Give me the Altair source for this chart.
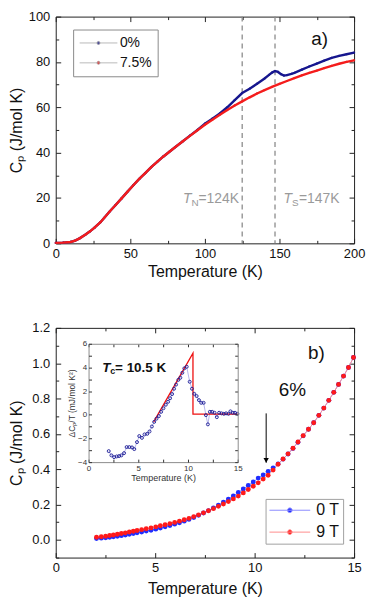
import altair as alt
import pandas as pd

FONT = "Liberation Sans"
INK = "#111111"

# ---------------- panel a: Cp(T) up to 200 K ----------------
a_T_0 = [0, 5, 10, 13, 16, 20, 23, 26, 30, 33, 36, 40, 44, 48, 52, 56, 60, 64, 68, 72,
         76, 80, 85, 90, 95, 100, 105, 110, 115, 120, 125, 130, 135, 140, 143, 145, 147,
         149, 151, 153, 155, 158, 160, 165, 170, 175, 180, 185, 190, 195, 200]
a_Cp_0 = [0.2, 0.3, 0.6, 1.2, 2.2, 3.9, 5.3, 6.9, 9.3, 11.6, 13.9, 16.8, 19.7, 22.7, 25.6,
          28.4, 31.0, 33.6, 35.9, 38.2, 40.3, 42.4, 44.9, 47.5, 50.0, 52.8, 55.0, 57.3,
          60.0, 63.2, 66.3, 68.2, 70.4, 72.7, 74.3, 75.3, 76.0, 75.6, 74.6, 74.0, 74.2,
          74.7, 75.2, 76.6, 78.0, 79.3, 80.6, 81.8, 82.7, 83.4, 84.1]
a_T_75 = [0, 5, 10, 13, 16, 20, 23, 26, 30, 33, 36, 40, 44, 48, 52, 56, 60, 64, 68, 72,
          76, 80, 85, 90, 95, 100, 105, 110, 115, 120, 125, 130, 135, 140, 145, 150, 155,
          160, 165, 170, 175, 180, 185, 190, 195, 200]
a_Cp_75 = [0.2, 0.3, 0.6, 1.2, 2.2, 3.9, 5.3, 6.9, 9.3, 11.6, 13.9, 16.8, 19.7, 22.7, 25.6,
           28.4, 31.0, 33.6, 35.9, 38.2, 40.3, 42.4, 44.9, 47.4, 49.9, 52.3, 54.5, 56.7,
           58.8, 60.8, 62.6, 64.4, 66.1, 67.6, 69.0, 70.3, 71.6, 72.9, 74.1, 75.2, 76.2,
           77.3, 78.3, 79.2, 80.0, 80.7]
a_samples = ["0%", "7.5%"]
a_trans_T = [125, 147]
a_trans_sym = ["T", "T"]
a_trans_sub = ["N", "S"]
a_trans_val = ["=124K", "=147K"]
a_trans_label_T = [85.3, 152.7]
a_trans_label_Cp = [17.8, 17.8]
a_tag = ["a)"]
a_tag_T = [177]
a_tag_Cp = [90]
a_xticks = [0, 50, 100, 150, 200]
a_xminor = [25, 75, 125, 175]
a_yticks = [0, 20, 40, 60, 80, 100]
a_yminor = [10, 30, 50, 70, 90]

# ---------------- panel b: low-T Cp in 0 T and 9 T ----------------
b_T = [2.05, 2.29, 2.51, 2.71, 2.90, 3.10, 3.30, 3.50, 3.70, 3.90, 4.09, 4.32, 4.55, 4.79,
       5.03, 5.26, 5.50, 5.74, 5.98, 6.22, 6.46, 6.70, 6.94, 7.18, 7.43, 7.68, 7.93, 8.18,
       8.43, 8.68, 8.93, 9.18, 9.43, 9.68, 9.93, 10.18, 10.43, 10.68, 10.93, 11.18, 11.43,
       11.68, 11.93, 12.18, 12.44, 12.71, 12.97, 13.23, 13.48, 13.73, 13.98, 14.22, 14.47,
       14.72, 14.97]
b_Cp_0T = [0.008, 0.010, 0.012, 0.015, 0.018, 0.021, 0.024, 0.028, 0.032, 0.036,
           0.040, 0.045, 0.050, 0.055, 0.061, 0.067, 0.074, 0.081, 0.089, 0.097,
           0.106, 0.116, 0.127, 0.139, 0.152, 0.166, 0.181, 0.197, 0.214, 0.231,
           0.249, 0.268, 0.288, 0.308, 0.328, 0.350, 0.368, 0.388, 0.408, 0.430,
           0.457, 0.486, 0.518, 0.553, 0.589, 0.626, 0.663, 0.705, 0.746, 0.790,
           0.835, 0.880, 0.927, 0.976, 1.032]
b_Cp_9T = [0.015, 0.018, 0.021, 0.025, 0.028, 0.032, 0.036, 0.040, 0.045, 0.049,
           0.053, 0.058, 0.063, 0.068, 0.074, 0.080, 0.086, 0.092, 0.099, 0.106,
           0.114, 0.122, 0.132, 0.142, 0.153, 0.165, 0.177, 0.190, 0.203, 0.217,
           0.232, 0.248, 0.266, 0.285, 0.304, 0.323, 0.344, 0.366, 0.395, 0.428,
           0.458, 0.487, 0.519, 0.554, 0.590, 0.626, 0.663, 0.705, 0.746, 0.790,
           0.835, 0.880, 0.927, 0.976, 1.032]
b_fields = ["0 T", "9 T"]
b_arrow_T = [10.58]
b_arrow_top = [0.716]
b_arrow_tip = [0.437]
b_tags = ["6%", "b)"]
b_tags_T = [11.9, 13.1]
b_tags_Cp = [0.848, 1.055]
b_xticks = [0, 5, 10, 15]
b_xminor = [2.5, 7.5, 12.5]
b_yticks = [0.0, 0.2, 0.4, 0.6, 0.8, 1.0, 1.2]
b_yminor = [-0.1, 0.1, 0.3, 0.5, 0.7, 0.9, 1.1]

# ---------------- inset: dCp/T ----------------
i_T = [2.03, 2.30, 2.57, 2.83, 3.07, 3.30, 3.57, 3.83, 4.10, 4.37, 4.60, 4.87, 5.10, 5.37,
       5.63, 5.90, 6.13, 6.37, 6.60, 6.83, 7.07, 7.30, 7.53, 7.77, 8.00, 8.20, 8.40, 8.60,
       8.80, 9.03, 9.23, 9.43, 9.63, 9.87, 10.17, 10.40, 10.63, 10.87, 11.10, 11.33, 11.57,
       11.80, 12.00, 12.20, 12.43, 12.67, 12.90, 13.13, 13.37, 13.60, 13.83, 14.07, 14.27,
       14.50, 14.73, 14.97]
i_dC = [-3.07, -3.43, -3.58, -3.52, -3.49, -3.43, -3.24, -2.73, -2.73, -2.76, -2.90, -2.31,
        -1.80, -1.95, -1.66, -1.61, -1.41, -0.99, -0.60, -0.33, -0.11, 0.25, 0.55, 0.85,
        1.10, 1.40, 1.75, 2.20, 2.55, 2.95, 3.13, 3.55, 3.92, 4.06, 2.79, 2.20, 1.77, 1.58,
        1.24, 1.01, 1.01, -0.03, -0.81, 0.25, 0.25, 0.17, -0.20, 0.17, 0.12, 0.08, 0.12,
        0.08, 0.29, 0.17, 0.17, 0.08]
i_fit_T = [6.55, 10.5, 10.5, 15.0]
i_fit_dC = [-0.6, 5.2, 0.05, 0.05]
i_tc_T = [1.37]
i_tc_dC = [3.97]
i_xticks = [0, 5, 10, 15]
i_xminor = [0, 2.5, 5, 7.5, 10, 12.5, 15]
i_yticks = [-4, -2, 0, 2, 4, 6]
i_yminor = [-4, -3, -2, -1, 0, 1, 2, 3, 4, 5, 6]

# ---------------- layout constants ----------------
W = 300
HA = 228
HB = 231
INSET_X = [33, 183]
INSET_Y = [135, 16]

NAVY = "#16168e"
RED_A = "#f41c1c"
BLUE_B = "#1f2dff"
RED_B = "#ff1a1a"


def A(values, orient, offset=0, size=0, labels=False, domain=False, **kw):
    d = dict(values=values, orient=orient, offset=offset, grid=False, labels=labels,
             domain=domain, labelFlush=False, labelOverlap=False, tickColor="#222",
             tickWidth=1, domainColor="#222", labelColor=INK, titleColor=INK,
             titleFontWeight="normal")
    if size > 0:
        d.update(ticks=True, tickSize=size)
    else:
        d.update(ticks=False)
    if "title" not in kw:
        d["title"] = None
    d.update(kw)
    return alt.Axis(**d)


def axis_layer(data, xf, yf, xs, ys, xax, yax):
    return alt.Chart(data).mark_point(opacity=0).encode(
        x=alt.X(xf, type="quantitative", scale=xs, axis=xax),
        y=alt.Y(yf, type="quantitative", scale=ys, axis=yax))


# ================= panel a =================
dfa = pd.concat([pd.DataFrame({"T": a_T_0, "Cp": a_Cp_0, "sample": a_samples[0]}),
                 pd.DataFrame({"T": a_T_75, "Cp": a_Cp_75, "sample": a_samples[1]})],
                ignore_index=True)
xa = alt.Scale(domain=[0, 200], nice=False, zero=False)
ya = alt.Scale(domain=[0, 100], nice=False, zero=False)
Xa = alt.X("T:Q", scale=xa, axis=None)
Ya = alt.Y("Cp:Q", scale=ya, axis=None)

PATH_A = "M-1,0L1,0M-0.08,0A0.08,0.08,0,1,1,0.08,0A0.08,0.08,0,1,1,-0.08,0Z"
legend_a = alt.Legend(orient="none", legendX=17.5, legendY=13, title=None,
                      symbolType=PATH_A, symbolSize=1444, symbolStrokeColor="#a8a8a8",
                      symbolStrokeWidth=0.8, symbolOpacity=1, labelFont=FONT,
                      labelFontSize=14, labelColor=INK, labelOffset=2, padding=6,
                      rowPadding=5, clipHeight=15, fillColor="white", strokeColor="#8a8a8a")

pts_a = alt.Chart(dfa).mark_point(filled=True, size=5, opacity=1).encode(
    x=Xa, y=Ya,
    fill=alt.Fill("sample:N", scale=alt.Scale(domain=a_samples, range=[NAVY, RED_A]),
                  legend=legend_a))
line_a0 = alt.Chart(dfa).transform_filter(alt.datum.sample == a_samples[0]).mark_line(
    strokeWidth=2.4, color=NAVY).encode(x=Xa, y=Ya)
line_a1 = alt.Chart(dfa).transform_filter(alt.datum.sample == a_samples[1]).mark_line(
    strokeWidth=2.4, color=RED_A).encode(x=Xa, y=Ya)

rules_a = alt.Chart(pd.DataFrame({"T": a_trans_T})).mark_rule(
    strokeDash=[5, 4], color="#8c8c8c", strokeWidth=1.3).encode(x=Xa)

df_tl = pd.DataFrame({"T": a_trans_label_T, "Cp": a_trans_label_Cp, "sym": a_trans_sym,
                      "sub": a_trans_sub, "val": a_trans_val})
GRAY_T = "#9a9a9a"
tl_sym = alt.Chart(df_tl).mark_text(align="left", baseline="alphabetic", fontSize=14,
                                    fontStyle="italic", color=GRAY_T, font=FONT).encode(
    x=Xa, y=Ya, text="sym:N")
tl_sub = alt.Chart(df_tl).mark_text(align="left", baseline="alphabetic", fontSize=10,
                                    dx=8.5, dy=3, color=GRAY_T, font=FONT).encode(
    x=Xa, y=Ya, text="sub:N")
tl_val = alt.Chart(df_tl).mark_text(align="left", baseline="alphabetic", fontSize=14,
                                    dx=15.5, color=GRAY_T, font=FONT).encode(
    x=Xa, y=Ya, text="val:N")
tag_a = alt.Chart(pd.DataFrame({"T": a_tag_T, "Cp": a_tag_Cp, "t": a_tag})).mark_text(
    fontSize=19, color=INK, font=FONT).encode(x=Xa, y=Ya, text="t:N")

axes_a = [
    axis_layer(dfa, "T", "Cp", xa, ya,
               A(a_xticks, "bottom", labels=True, title="Temperature (K)", labelFont=FONT,
                 labelFontSize=13, labelPadding=4, titleFont=FONT, titleFontSize=16,
                 titlePadding=3),
               A(a_yticks, "left", labels=True, title="Cₚ (J/mol K)", labelFont=FONT,
                 labelFontSize=13, labelPadding=6, titleFont=FONT, titleFontSize=16,
                 titleX=-31)),
    axis_layer(dfa, "T", "Cp", xa, ya, A(a_xticks, "top", offset=-HA, size=5),
               A(a_yticks, "right", offset=-W, size=5)),
    axis_layer(dfa, "T", "Cp", xa, ya, A(a_xticks, "bottom", offset=-HA, size=5),
               A(a_yticks, "left", offset=-W, size=5)),
    axis_layer(dfa, "T", "Cp", xa, ya, A(a_xminor, "top", offset=-HA, size=3),
               A(a_yminor, "right", offset=-W, size=3)),
    axis_layer(dfa, "T", "Cp", xa, ya, A(a_xminor, "bottom", offset=-HA, size=3),
               A(a_yminor, "left", offset=-W, size=3)),
]

panel_a = alt.layer(*axes_a, pts_a, rules_a, line_a0, line_a1, tl_sym, tl_sub, tl_val,
                    tag_a).resolve_axis(x="independent", y="independent").properties(
    width=W, height=HA)

# ================= panel b =================
dfb = pd.concat([pd.DataFrame({"T": b_T, "Cp": b_Cp_0T, "field": b_fields[0]}),
                 pd.DataFrame({"T": b_T, "Cp": b_Cp_9T, "field": b_fields[1]})],
                ignore_index=True)
xb = alt.Scale(domain=[0, 15], nice=False, zero=False)
yb = alt.Scale(domain=[-0.1, 1.2], nice=False, zero=False)
Xb = alt.X("T:Q", scale=xb, axis=None)
Yb = alt.Y("Cp:Q", scale=yb, axis=None)

PATH_B = "M-1,0L1,0M-0.115,0A0.115,0.115,0,1,1,0.115,0A0.115,0.115,0,1,1,-0.115,0Z"
legend_b = alt.Legend(orient="none", legendX=211, legendY=172, title=None,
                      symbolType=PATH_B, symbolSize=1681, symbolStrokeWidth=1,
                      symbolOpacity=1, labelFont=FONT, labelFontSize=16, labelColor=INK,
                      labelOffset=5.5, padding=3.4, rowPadding=6, clipHeight=16,
                      fillColor="white", strokeColor="#a0a0a0")

lines_b = alt.Chart(dfb).mark_line(strokeWidth=0.9).encode(
    x=Xb, y=Yb,
    stroke=alt.Stroke("field:N", scale=alt.Scale(domain=b_fields,
                                                 range=["#8c8cff", "#ff8c8c"]),
                      legend=legend_b))
pts_b = alt.Chart(dfb).mark_point(filled=True, size=24, opacity=1).encode(
    x=Xb, y=Yb,
    fill=alt.Fill("field:N", scale=alt.Scale(domain=b_fields, range=[BLUE_B, RED_B]),
                  legend=legend_b))

df_arrow = pd.DataFrame({"T": b_arrow_T, "top": b_arrow_top, "tip": b_arrow_tip})
arrow_line = alt.Chart(df_arrow).mark_rule(color="black", strokeWidth=1).encode(
    x=Xb, y=alt.Y("top:Q", scale=yb, axis=None), y2="tip:Q")
arrow_head = alt.Chart(df_arrow).mark_point(shape="triangle-down", filled=True, size=28,
                                           color="black", opacity=1, yOffset=-2.3).encode(
    x=Xb, y=alt.Y("tip:Q", scale=yb, axis=None))
tags_b = alt.Chart(pd.DataFrame({"T": b_tags_T, "Cp": b_tags_Cp, "t": b_tags})).mark_text(
    fontSize=19, color=INK, font=FONT).encode(x=Xb, y=Yb, text="t:N")

axes_b = [
    axis_layer(dfb, "T", "Cp", xb, yb,
               A(b_xticks, "bottom", labels=True, title="Temperature (K)", labelFont=FONT,
                 labelFontSize=13, labelPadding=4, titleFont=FONT, titleFontSize=16,
                 titlePadding=6),
               A(b_yticks, "left", labels=True, title="Cₚ (J/mol K)", labelFont=FONT,
                 labelFontSize=13, labelPadding=6, titleFont=FONT, titleFontSize=16,
                 titleX=-31, format=".1f")),
    axis_layer(dfb, "T", "Cp", xb, yb, A(b_xticks, "top", offset=-HB, size=5),
               A(b_yticks, "right", offset=-W, size=5)),
    axis_layer(dfb, "T", "Cp", xb, yb, A(b_xticks, "bottom", offset=-HB, size=5),
               A(b_yticks, "left", offset=-W, size=5)),
    axis_layer(dfb, "T", "Cp", xb, yb, A(b_xminor, "top", offset=-HB, size=3),
               A(b_yminor, "right", offset=-W, size=3)),
    axis_layer(dfb, "T", "Cp", xb, yb, A(b_xminor, "bottom", offset=-HB, size=3),
               A(b_yminor, "left", offset=-W, size=3)),
]

# ---- inset ----
dfi = pd.DataFrame({"T": i_T, "dC": i_dC})
xi = alt.Scale(domain=[0, 15], range=INSET_X, nice=False, zero=False)
yi = alt.Scale(domain=[-4, 6], range=INSET_Y, nice=False, zero=False)
Xi = alt.X("T:Q", scale=xi, axis=None)
Yi = alt.Y("dC:Q", scale=yi, axis=None)
IGRAY = "#8c8c8c"


def IA(values, orient, offset, size=0, labels=False, domain=False, **kw):
    return A(values, orient, offset=offset, size=size, labels=labels, domain=domain,
             zindex=1, domainColor=IGRAY, tickColor="#333", labelFont=FONT,
             labelFontSize=8, labelColor="#333", titleColor="#333", titleFont=FONT, **kw)


axes_i = [
    axis_layer(dfi, "T", "dC", xi, yi,
               IA(i_xticks, "bottom", INSET_Y[0] - HB, labels=True, domain=True,
                  labelPadding=2, title="Temperature (K)", titleFontSize=9,
                  titlePadding=1),
               IA(i_yticks, "left", -INSET_X[0], labels=True, domain=True,
                  labelPadding=2, title="ΔCₚ/T (mJ/mol K²)", titleFontSize=8.5,
                  titlePadding=1)),
    axis_layer(dfi, "T", "dC", xi, yi, IA(i_xminor, "top", -INSET_Y[0], size=3),
               IA(i_yminor, "right", INSET_X[0] - W, size=3)),
    axis_layer(dfi, "T", "dC", xi, yi,
               IA(i_xminor, "bottom", INSET_Y[1] - HB, size=3, domain=True),
               IA(i_yminor, "left", -INSET_X[1], size=3, domain=True)),
]

line_i = alt.Chart(dfi).mark_line(color="#a4a4e4", strokeWidth=0.8).encode(x=Xi, y=Yi)
pts_i = alt.Chart(dfi).mark_point(shape="circle", filled=False, size=9, strokeWidth=0.9,
                                  color="#1c1c96", opacity=1).encode(x=Xi, y=Yi)
dff = pd.DataFrame({"T": i_fit_T, "dC": i_fit_dC, "k": list(range(len(i_fit_T)))})
fit_i = alt.Chart(dff).mark_line(color="#ee1111", strokeWidth=1.3).encode(
    x=Xi, y=Yi, order="k:Q")
df_tc = pd.DataFrame({"T": i_tc_T, "dC": i_tc_dC, "a": ["T"], "b": ["c"],
                      "c": ["= 10.5 K"]})
tc_a = alt.Chart(df_tc).mark_text(align="left", baseline="middle", fontSize=13.5,
                                  fontWeight="bold", fontStyle="italic", color=INK,
                                  font=FONT).encode(x=Xi, y=Yi, text="a:N")
tc_b = alt.Chart(df_tc).mark_text(align="left", baseline="middle", fontSize=9,
                                  fontWeight="bold", dx=8, dy=3, color=INK,
                                  font=FONT).encode(x=Xi, y=Yi, text="b:N")
tc_c = alt.Chart(df_tc).mark_text(align="left", baseline="middle", fontSize=13.5,
                                  fontWeight="bold", dx=13, color=INK,
                                  font=FONT).encode(x=Xi, y=Yi, text="c:N")

panel_b = alt.layer(*axes_b, lines_b, pts_b, arrow_line, arrow_head, tags_b,
                    *axes_i, line_i, fit_i, pts_i, tc_a, tc_b, tc_c).resolve_scale(
    x="independent", y="independent").properties(width=W, height=HB)

chart = alt.vconcat(panel_a, panel_b, spacing=41).resolve_scale(
    x="independent", y="independent", fill="independent", stroke="independent",
    color="independent").properties(
    padding={"left": 0, "top": 0, "right": 0, "bottom": 0}
).configure_view(stroke="#222", strokeWidth=1).configure_text(font=FONT)

chart.save("out.html", embed_options={"renderer": "svg", "actions": False})
